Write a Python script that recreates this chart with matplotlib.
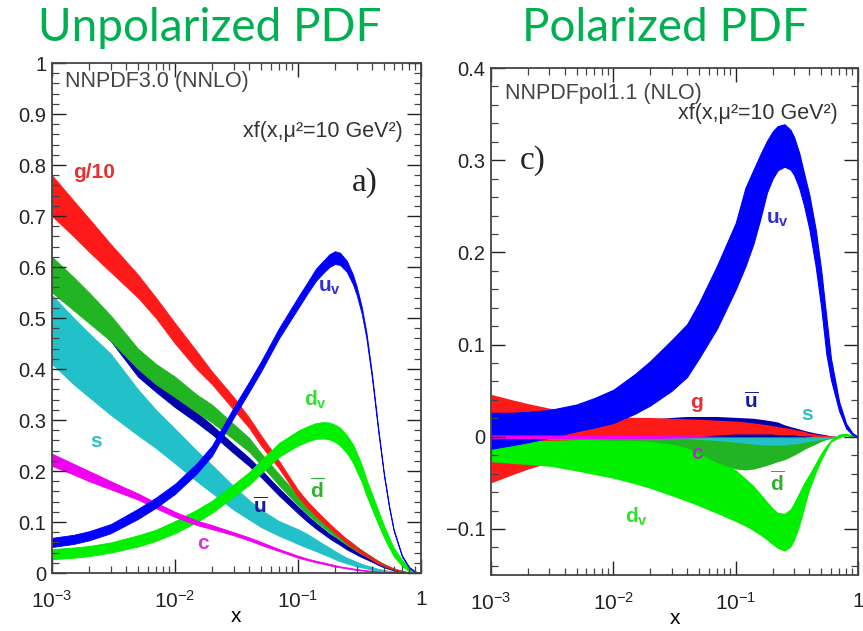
import numpy as np
import matplotlib
matplotlib.use('Agg')
import matplotlib.pyplot as plt
from matplotlib.ticker import FixedLocator, MultipleLocator, FuncFormatter, NullFormatter, LogLocator

plt.rcParams['font.family'] = ['Liberation Sans', 'DejaVu Sans']
plt.rcParams['mathtext.fontset'] = 'custom'
plt.rcParams['mathtext.rm'] = 'Liberation Sans'
plt.rcParams['mathtext.bf'] = 'Liberation Sans:bold'
plt.rcParams['mathtext.it'] = 'Liberation Sans:italic'
plt.rcParams['mathtext.default'] = 'regular'

'''
DATA (read off the picture), lower / upper edge of each band
'''
x = [0.001, 0.0015, 0.002, 0.003, 0.005, 0.007, 0.01, 0.015, 0.02, 0.03, 0.04, 0.05,
     0.07, 0.1, 0.12, 0.14, 0.16, 0.18, 0.2, 0.22, 0.25, 0.28, 0.3, 0.33, 0.36,
     0.4, 0.45, 0.5, 0.55, 0.6, 0.7, 0.8, 0.9, 1.0]

# unpolarized, NNPDF3.0 NNLO
g10_lo = [0.70, 0.66, 0.63, 0.59, 0.54, 0.50, 0.45, 0.40, 0.37, 0.32, 0.285, 0.25,
          0.205, 0.15, 0.128, 0.112, 0.099, 0.088, 0.078, 0.07, 0.058, 0.05, 0.045, 0.038, 0.033,
          0.026, 0.019, 0.014, 0.01, 0.007, 0.003, 0.001, 0.0002, 0.0]
g10_hi = [0.78, 0.73, 0.695, 0.645, 0.585, 0.54, 0.49, 0.435, 0.395, 0.345, 0.305, 0.27,
          0.22, 0.163, 0.14, 0.123, 0.109, 0.097, 0.087, 0.078, 0.066, 0.057, 0.051, 0.044, 0.038,
          0.031, 0.023, 0.017, 0.013, 0.009, 0.004, 0.0015, 0.0004, 0.0]
dbar_lo = [0.55, 0.515, 0.49, 0.455, 0.40, 0.37, 0.345, 0.315, 0.295, 0.262, 0.238, 0.212,
           0.172, 0.133, 0.115, 0.101, 0.09, 0.08, 0.072, 0.065, 0.055, 0.048, 0.043, 0.037, 0.032,
           0.026, 0.019, 0.014, 0.01, 0.007, 0.003, 0.001, 0.0002, 0.0]
dbar_hi = [0.62, 0.58, 0.55, 0.505, 0.44, 0.41, 0.385, 0.35, 0.33, 0.292, 0.265, 0.235,
           0.194, 0.152, 0.132, 0.117, 0.104, 0.093, 0.085, 0.077, 0.066, 0.058, 0.052, 0.045, 0.039,
           0.032, 0.024, 0.018, 0.013, 0.009, 0.004, 0.0015, 0.0004, 0.0]
ubar_lo = [0.56, 0.525, 0.495, 0.455, 0.385, 0.355, 0.325, 0.295, 0.272, 0.235, 0.21, 0.188,
           0.152, 0.117, 0.10, 0.087, 0.077, 0.068, 0.061, 0.055, 0.046, 0.04, 0.036, 0.031, 0.027,
           0.022, 0.016, 0.011, 0.008, 0.005, 0.002, 0.0005, 0.0, 0.0]
ubar_hi = [0.60, 0.565, 0.535, 0.49, 0.42, 0.38, 0.345, 0.315, 0.29, 0.252, 0.226, 0.203,
           0.166, 0.13, 0.112, 0.098, 0.087, 0.077, 0.07, 0.063, 0.054, 0.047, 0.042, 0.036, 0.032,
           0.027, 0.02, 0.015, 0.011, 0.007, 0.003, 0.001, 0.0002, 0.0]
s_lo = [0.41, 0.37, 0.345, 0.31, 0.27, 0.245, 0.215, 0.18, 0.157, 0.124, 0.105, 0.09,
        0.073, 0.057, 0.049, 0.043, 0.037, 0.032, 0.027, 0.023, 0.019, 0.015, 0.013, 0.011, 0.009,
        0.006, 0.004, 0.003, 0.002, 0.001, 0.0005, 0.0, 0.0, 0.0]
s_hi = [0.545, 0.50, 0.47, 0.43, 0.36, 0.32, 0.283, 0.24, 0.212, 0.17, 0.143, 0.124,
        0.102, 0.086, 0.076, 0.066, 0.057, 0.05, 0.043, 0.037, 0.03, 0.025, 0.022, 0.018, 0.015,
        0.012, 0.008, 0.006, 0.004, 0.003, 0.0015, 0.0005, 0.0001, 0.0]
c_lo = [0.21, 0.193, 0.18, 0.164, 0.144, 0.127, 0.11, 0.094, 0.086, 0.074, 0.064, 0.055,
        0.043, 0.030, 0.025, 0.021, 0.018, 0.015, 0.0125, 0.011, 0.009, 0.007, 0.006, 0.005, 0.004,
        0.003, 0.002, 0.0014, 0.001, 0.0006, 0.0002, 0.0, 0.0, 0.0]
c_hi = [0.234, 0.214, 0.20, 0.18, 0.156, 0.138, 0.12, 0.103, 0.094, 0.08, 0.07, 0.061,
        0.047, 0.034, 0.028, 0.024, 0.021, 0.018, 0.0155, 0.013, 0.011, 0.009, 0.008, 0.0065, 0.0055,
        0.004, 0.003, 0.0022, 0.0016, 0.001, 0.0004, 0.0001, 0.0, 0.0]
uv_lo = [0.051, 0.057, 0.064, 0.078, 0.106, 0.128, 0.155, 0.195, 0.23, 0.305, 0.355, 0.395,
         0.46, 0.519, 0.549, 0.573, 0.588, 0.60, 0.606, 0.604, 0.59, 0.566, 0.545, 0.508, 0.46,
         0.38, 0.275, 0.19, 0.128, 0.082, 0.032, 0.01, 0.002, 0.0]
uv_hi = [0.069, 0.075, 0.082, 0.096, 0.126, 0.148, 0.175, 0.215, 0.25, 0.325, 0.375, 0.415,
         0.48, 0.541, 0.571, 0.597, 0.612, 0.625, 0.631, 0.628, 0.612, 0.585, 0.562, 0.522, 0.472,
         0.39, 0.283, 0.196, 0.133, 0.086, 0.035, 0.012, 0.003, 0.0]
dv_lo = [0.027, 0.03, 0.033, 0.04, 0.052, 0.063, 0.078, 0.10, 0.118, 0.15, 0.173, 0.195,
         0.228, 0.25, 0.258, 0.263, 0.264, 0.262, 0.257, 0.25, 0.235, 0.216, 0.2, 0.178, 0.152,
         0.125, 0.095, 0.07, 0.05, 0.033, 0.014, 0.003, 0.0, 0.0]
dv_hi = [0.047, 0.05, 0.053, 0.06, 0.074, 0.085, 0.102, 0.124, 0.142, 0.174, 0.198, 0.221,
         0.255, 0.279, 0.288, 0.294, 0.296, 0.295, 0.291, 0.285, 0.27, 0.252, 0.236, 0.212, 0.184,
         0.155, 0.122, 0.093, 0.07, 0.05, 0.026, 0.009, 0.002, 0.0]

# polarized, NNPDFpol1.1 NLO
uvp_lo = [-0.013, -0.009, -0.006, -0.001, 0.006, 0.01, 0.015, 0.025, 0.034, 0.05, 0.065, 0.085,
          0.117, 0.16, 0.185, 0.21, 0.238, 0.265, 0.28, 0.289, 0.293, 0.29, 0.284, 0.27, 0.252,
          0.225, 0.185, 0.14, 0.09, 0.062, 0.028, 0.009, 0.002, 0.0]
uvp_hi = [0.026, 0.026, 0.027, 0.029, 0.035, 0.042, 0.051, 0.068, 0.082, 0.105, 0.122, 0.145,
          0.185, 0.232, 0.27, 0.29, 0.307, 0.321, 0.331, 0.337, 0.339, 0.333, 0.325, 0.308, 0.287,
          0.262, 0.225, 0.18, 0.13, 0.085, 0.038, 0.014, 0.004, 0.0]
gp_lo = [-0.05, -0.041, -0.035, -0.028, -0.02, -0.015, -0.01, -0.007, -0.005, -0.002, -0.001, 0.0,
         0.002, 0.003, 0.003, 0.003, 0.003, 0.003, 0.003, 0.002, 0.002, 0.002, 0.002, 0.001, 0.001,
         0.001, 0.0, 0.0, 0.0, 0.0, 0.0, 0.0, 0.0, 0.0]
gp_hi = [0.046, 0.04, 0.036, 0.031, 0.026, 0.024, 0.022, 0.021, 0.021, 0.02, 0.0195, 0.019,
         0.018, 0.017, 0.016, 0.015, 0.014, 0.013, 0.012, 0.011, 0.01, 0.009, 0.008, 0.007, 0.006,
         0.004, 0.003, 0.002, 0.0015, 0.001, 0.0, 0.0, 0.0, 0.0]
ubarp_lo = [-0.004, -0.004, -0.003, -0.003, -0.002, -0.002, -0.002, -0.001, -0.001, -0.001, -0.001, -0.001,
            -0.001, -0.001, -0.001, -0.001, -0.001, -0.001, -0.001, -0.001, -0.001, -0.001, -0.001, -0.001, -0.001,
            0.0, 0.0, 0.0, 0.0, 0.0, 0.0, 0.0, 0.0, 0.0]
ubarp_hi = [0.01, 0.01, 0.011, 0.012, 0.014, 0.015, 0.017, 0.018, 0.019, 0.021, 0.022, 0.022,
            0.022, 0.021, 0.0205, 0.02, 0.019, 0.018, 0.017, 0.016, 0.013, 0.011, 0.01, 0.0085, 0.007,
            0.0055, 0.004, 0.003, 0.002, 0.001, 0.0, 0.0, 0.0, 0.0]
dvp_lo = [-0.027, -0.029, -0.03, -0.032, -0.037, -0.041, -0.045, -0.051, -0.056, -0.064, -0.07, -0.075,
          -0.083, -0.092, -0.097, -0.102, -0.107, -0.112, -0.117, -0.121, -0.124, -0.12, -0.113, -0.098, -0.08,
          -0.058, -0.04, -0.026, -0.015, -0.006, -0.001, 0.001, 0.0, 0.0]
dvp_hi = [-0.005, -0.005, -0.004, -0.004, -0.003, -0.003, -0.003, -0.003, -0.003, -0.004, -0.007, -0.012,
          -0.022, -0.036, -0.045, -0.053, -0.062, -0.07, -0.077, -0.082, -0.083, -0.078, -0.071, -0.06, -0.05,
          -0.04, -0.028, -0.017, -0.009, -0.003, 0.003, 0.004, 0.002, 0.0]
dbarp_lo = [-0.003, -0.003, -0.003, -0.003, -0.003, -0.003, -0.004, -0.004, -0.005, -0.008, -0.012, -0.018,
            -0.028, -0.035, -0.036, -0.035, -0.033, -0.031, -0.029, -0.027, -0.025, -0.022, -0.02, -0.017, -0.014,
            -0.011, -0.008, -0.005, -0.003, -0.002, 0.0, 0.0, 0.0, 0.0]
dbarp_hi = [0.0, 0.0, 0.0, 0.0, 0.0, 0.0, 0.0, 0.0, 0.0, 0.0, 0.0, 0.0,
            0.0, 0.0, 0.0, 0.0, 0.0, 0.0, 0.0, 0.0, 0.0, 0.0, 0.0, 0.0, 0.0,
            0.0, 0.0, 0.0, 0.0, 0.0, 0.0, 0.0, 0.0, 0.0]
sp_lo = [-0.002, -0.002, -0.002, -0.002, -0.002, -0.002, -0.002, -0.002, -0.002, -0.002, -0.002, -0.003,
         -0.004, -0.006, -0.007, -0.008, -0.0085, -0.009, -0.009, -0.009, -0.009, -0.008, -0.008, -0.007, -0.006,
         -0.005, -0.004, -0.003, -0.002, -0.001, 0.0, 0.0, 0.0, 0.0]
sp_hi = [-0.001, -0.001, -0.001, -0.001, -0.001, -0.001, -0.001, -0.001, -0.001, -0.001, -0.001, -0.001,
         -0.001, -0.001, -0.001, -0.001, -0.001, -0.001, -0.001, -0.001, -0.001, -0.001, -0.001, -0.001, -0.001,
         -0.001, -0.001, -0.001, -0.001, -0.0005, 0.0, 0.0, 0.0, 0.0]
cp_lo = [-0.002, -0.002, -0.002, -0.002, -0.002, -0.002, -0.002, -0.002, -0.002, -0.0015, -0.0012, -0.001,
         -0.0005, 0.0, 0.0, 0.0, 0.0, 0.0, 0.0, 0.0, 0.0, 0.0, 0.0, 0.0, 0.0,
         0.0, 0.0, 0.0, 0.0, 0.0, 0.0, 0.0, 0.0, 0.0]
cp_hi = [0.002, 0.002, 0.002, 0.002, 0.002, 0.002, 0.002, 0.002, 0.002, 0.0015, 0.0012, 0.001,
         0.0005, 0.0, 0.0, 0.0, 0.0, 0.0, 0.0, 0.0, 0.0, 0.0, 0.0, 0.0, 0.0,
         0.0, 0.0, 0.0, 0.0, 0.0, 0.0, 0.0, 0.0, 0.0]

x_ticks = [1e-3, 1e-2, 1e-1, 1]
x_ticklabels = ['10$^{-3}$', '10$^{-2}$', '10$^{-1}$', '1']

RED = '#ff1a1a'
NAVY = '#0000a8'
BLUE = '#0000ff'
LIME = '#00f000'
DGREEN = '#22b422'
CYAN = '#22c0c8'
MAGENTA = '#f000f0'
TITLE_GREEN = '#00b050'


def band(ax, lo, hi, color, lw=0.6):
    ax.fill_between(x, lo, hi, facecolor=color, edgecolor=color, linewidth=lw)


def style_axes(ax):
    ax.set_xscale('log')
    ax.set_xlim(1e-3, 1)
    ax.xaxis.set_major_locator(FixedLocator(x_ticks))
    ax.set_xticklabels(x_ticklabels)
    ax.xaxis.set_minor_locator(LogLocator(base=10, subs=np.arange(2, 10)))
    ax.xaxis.set_minor_formatter(NullFormatter())
    ax.tick_params(which='both', direction='in', top=True, right=True, color='#444444')
    ax.tick_params(which='major', length=10, width=1.0)
    ax.tick_params(which='minor', length=5, width=0.9)
    ax.tick_params(axis='x', labelsize=15, pad=12, colors='#222222')
    ax.tick_params(axis='y', labelsize=14.5, pad=4, colors='#222222')
    for sp in ax.spines.values():
        sp.set_linewidth(1.3)
        sp.set_color('#444444')
    ax.yaxis.set_major_formatter(FuncFormatter(lambda v, p: ('%g' % round(v, 3)).replace('-', '\u2212')))
    ax.set_xlabel('x', fontsize=15, labelpad=-3)


fig = plt.figure(figsize=(8.63, 6.31), dpi=100)
ax1 = fig.add_axes([0.0603, 0.0919, 0.4275, 0.8082])
ax2 = fig.add_axes([0.569, 0.0887, 0.4253, 0.8035])

# LEFT: unpolarized
band(ax1, s_lo, s_hi, CYAN)
band(ax1, ubar_lo, ubar_hi, NAVY)
band(ax1, dbar_lo, dbar_hi, DGREEN)
band(ax1, g10_lo, g10_hi, RED)
band(ax1, dv_lo, dv_hi, LIME)
band(ax1, c_lo, c_hi, MAGENTA)
band(ax1, uv_lo, uv_hi, BLUE)
ax1.set_ylim(0, 1)
ax1.yaxis.set_major_locator(MultipleLocator(0.1))
ax1.yaxis.set_minor_locator(MultipleLocator(0.02))
style_axes(ax1)

lab = dict(fontsize=15, ha='center', va='center')
ax1.text(0.0022, 0.785, 'g/10', color='#e83030', fontweight='bold', **lab)
ax1.text(0.18, 0.56, r'$\mathbf{u_v}$', color='#3030d0', **lab)
ax1.text(0.14, 0.34, r'$\mathbf{d_v}$', color='#30e030', **lab)
ax1.text(0.0023, 0.257, 's', color='#30c0c8', fontweight='bold', **lab)
ax1.text(0.049, 0.13, r'$\mathbf{\overline{u}}$', color='#1818a0', **lab)
ax1.text(0.145, 0.163, r'$\mathbf{\overline{d}}$', color='#30b030', **lab)
ax1.text(0.017, 0.058, 'c', color='#e030e0', fontweight='bold', **lab)

ax1.text(0.035, 0.963, 'NNPDF3.0 (NNLO)', transform=ax1.transAxes, fontsize=15.5,
         color='#444444', va='center', ha='left')
ax1.text(0.951, 0.865, 'xf(x,\u03bc\u00b2=10 GeV\u00b2)', transform=ax1.transAxes, fontsize=15.5,
         color='#333333', va='center', ha='right')
ax1.text(0.884, 0.765, 'a)', transform=ax1.transAxes, fontsize=24, family='Liberation Serif',
         color='#222222', va='center', ha='right')

# RIGHT: polarized
band(ax2, ubarp_lo, ubarp_hi, NAVY, lw=0)
band(ax2, gp_lo, gp_hi, RED, lw=0)
band(ax2, dvp_lo, dvp_hi, LIME, lw=0)
band(ax2, dbarp_lo, dbarp_hi, DGREEN, lw=0)
band(ax2, sp_lo, sp_hi, CYAN, lw=0)
band(ax2, uvp_lo, uvp_hi, BLUE, lw=0.8)
band(ax2, cp_lo, cp_hi, MAGENTA, lw=0)
ax2.set_ylim(-0.15, 0.4)
ax2.yaxis.set_major_locator(MultipleLocator(0.1))
ax2.yaxis.set_minor_locator(MultipleLocator(0.02))
style_axes(ax2)

ax2.text(0.22, 0.236, r'$\mathbf{u_v}$', color='#3030d0', **lab)
ax2.text(0.048, 0.037, 'g', color='#e83030', fontweight='bold', **lab)
ax2.text(0.135, 0.038, r'$\mathbf{\overline{u}}$', color='#1818a0', **lab)
ax2.text(0.38, 0.024, 's', color='#30c0c8', fontweight='bold', **lab)
ax2.text(0.048, -0.018, 'c', color='#b030c0', fontweight='bold', **lab)
ax2.text(0.22, -0.05, r'$\mathbf{\overline{d}}$', color='#30b030', **lab)
ax2.text(0.0155, -0.087, r'$\mathbf{d_v}$', color='#30e030', **lab)

ax2.text(0.038, 0.95, 'NNPDFpol1.1 (NLO)', transform=ax2.transAxes, fontsize=15.5,
         color='#444444', va='center', ha='left')
ax2.text(0.945, 0.911, 'xf(x,\u03bc\u00b2=10 GeV\u00b2)', transform=ax2.transAxes, fontsize=15.5,
         color='#333333', va='center', ha='right')
ax2.text(0.079, 0.818, 'c)', transform=ax2.transAxes, fontsize=24, family='Liberation Serif',
         color='#222222', va='center', ha='left')

fig.text(0.243, 0.955, 'Unpolarized PDF', fontsize=33, family=['Lato', 'DejaVu Sans'],
         color=TITLE_GREEN, ha='center', va='center')
fig.text(0.771, 0.955, 'Polarized PDF', fontsize=33, family=['Lato', 'DejaVu Sans'],
         color=TITLE_GREEN, ha='center', va='center')

fig.savefig('out.png', dpi=100)
